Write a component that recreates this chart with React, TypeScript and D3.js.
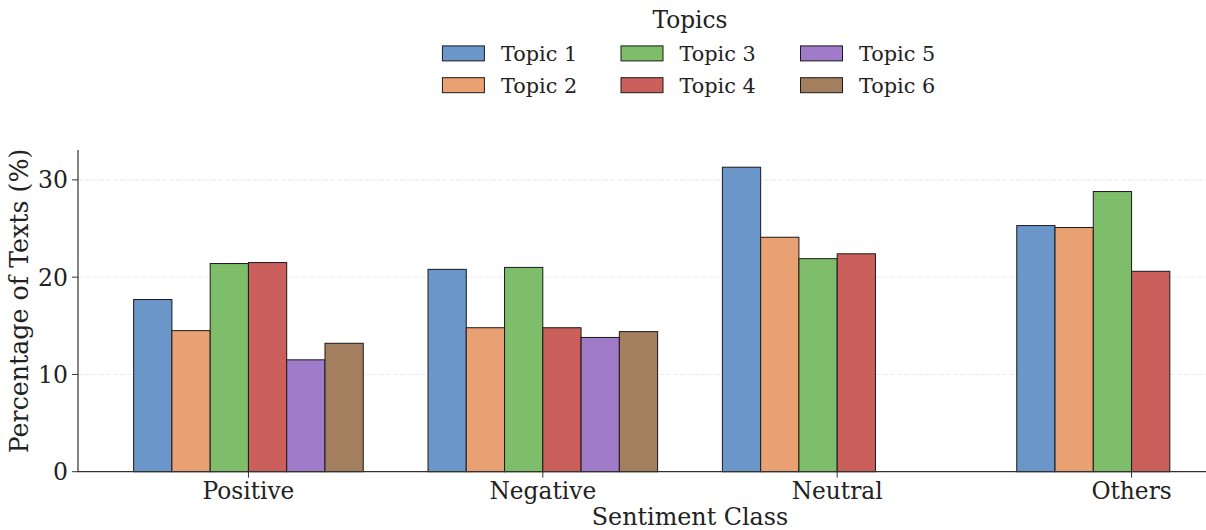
import React from "react";
import * as d3 from "d3";

const categories = ["Positive", "Negative", "Neutral", "Others"];
const topics = ["Topic 1", "Topic 2", "Topic 3", "Topic 4", "Topic 5", "Topic 6"];
const topic1 = [17.7, 20.8, 31.3, 25.3];
const topic2 = [14.5, 14.8, 24.1, 25.1];
const topic3 = [21.4, 21.0, 21.9, 28.8];
const topic4 = [21.5, 14.8, 22.4, 20.6];
const topic5 = [11.5, 13.8, 0, 0];
const topic6 = [13.2, 14.4, 0, 0];
const yTicks = [0, 10, 20, 30];
const colors = ["#6b96ca", "#e9a173", "#7ebd69", "#ca5f5b", "#9f7bc9", "#a37f60"];

const series = [topic1, topic2, topic3, topic4, topic5, topic6];
const W = 1206;
const H = 530;
const FONT = "DejaVu Serif, serif";
const barW = 0.13;

export default function App() {
  const left = 78;
  const right = 1302;
  const top = 150;
  const bottom = 471.7;
  const x = d3.scaleLinear().domain([-0.579, 3.579]).range([left, right]);
  const y = d3.scaleLinear().domain([0, 33.07]).range([bottom, top]);
  const cx = (left + right) / 2;

  const legendCols = [442.4, 621, 800.5];
  const legendRows = [53.4, 85.2];

  return (
    <svg width={W} height={H} style={{ position: "absolute", left: 0, top: 0, background: "#fff" }}>
      {/* gridlines */}
      {yTicks.filter((t) => t > 0).map((t) => (
        <line key={"g" + t} x1={left} x2={W} y1={y(t)} y2={y(t)} stroke="#e6e6e6" strokeWidth={0.8} strokeDasharray="5,2" />
      ))}
      {/* bars */}
      {series.map((vals, si) =>
        vals.map((v, ci) => {
          if (v <= 0) return null;
          const x0 = x(ci + (si - 3) * barW);
          const x1 = x(ci + (si - 2) * barW);
          return (
            <rect
              key={`b${si}-${ci}`}
              x={x0}
              y={y(v)}
              width={x1 - x0}
              height={y(0) - y(v)}
              fill={colors[si]}
              stroke="#1a1a1a"
              strokeWidth={1}
            />
          );
        })
      )}
      {/* spines */}
      <line x1={left} x2={left} y1={top} y2={bottom} stroke="#333" strokeWidth={1.2} />
      <line x1={left - 0.6} x2={W} y1={bottom} y2={bottom} stroke="#333" strokeWidth={1.2} />
      {/* y ticks */}
      {yTicks.map((t) => (
        <g key={"yt" + t}>
          <line x1={left - 6} x2={left} y1={y(t)} y2={y(t)} stroke="#333" strokeWidth={1} />
          <text x={left - 10} y={y(t)} dy="0.36em" textAnchor="end" fontFamily={FONT} fontSize={23.5} fill="#222">
            {t}
          </text>
        </g>
      ))}
      {/* x ticks */}
      {categories.map((c, i) => (
        <g key={"xt" + c}>
          <line x1={x(i)} x2={x(i)} y1={bottom} y2={bottom + 6} stroke="#333" strokeWidth={1} />
          <text x={x(i)} y={499} textAnchor="middle" fontFamily={FONT} fontSize={23.3} fill="#222">
            {c}
          </text>
        </g>
      ))}
      {/* axis labels */}
      <text x={cx} y={525} textAnchor="middle" fontFamily={FONT} fontSize={23.8} fill="#222">
        Sentiment Class
      </text>
      <text
        transform={`translate(28, 301) rotate(-90)`}
        textAnchor="middle"
        fontFamily={FONT}
        fontSize={25.3}
        fill="#222"
      >
        Percentage of Texts (%)
      </text>
      {/* legend */}
      <text x={cx} y={28} textAnchor="middle" fontFamily={FONT} fontSize={23.3} fill="#222">
        Topics
      </text>
      {topics.map((tp, i) => {
        const col = Math.floor(i / 2);
        const row = i % 2;
        const lx = legendCols[col];
        const ly = legendRows[row];
        return (
          <g key={"lg" + tp}>
            <rect x={lx} y={ly - 7.5} width={42} height={15} fill={colors[i]} stroke="#1a1a1a" strokeWidth={1} />
            <text x={lx + 58.5} y={ly} dy="0.36em" fontFamily={FONT} fontSize={20.8} fill="#222">
              {tp}
            </text>
          </g>
        );
      })}
    </svg>
  );
}
